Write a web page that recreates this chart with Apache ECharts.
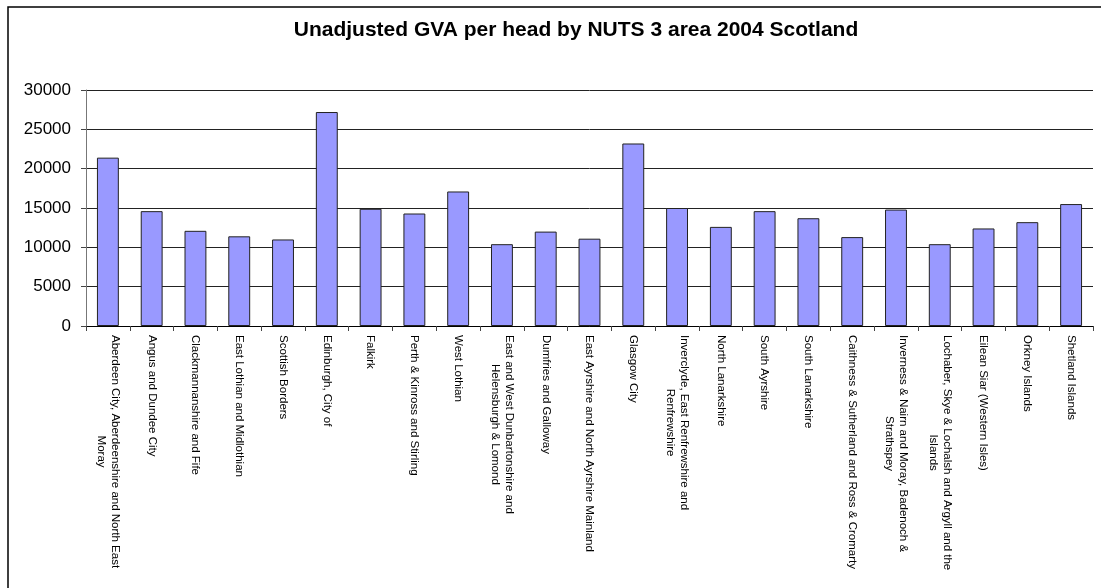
<!DOCTYPE html>
<html>
<head>
<meta charset="utf-8">
<title>Unadjusted GVA per head by NUTS 3 area 2004 Scotland</title>
<script src="https://cdn.jsdelivr.net/npm/echarts@6/dist/echarts.min.js"></script>
<style>
  html, body { margin: 0; padding: 0; background: #fff; }
  #main { width: 1101px; height: 588px; }
</style>
</head>
<body>
<div id="main"></div>
<script>
// NUTS 3 areas, as labelled on the axis (line breaks as in the original)
const areas = [
  'Aberdeen City, Aberdeenshire and North East\nMoray',
  'Angus and Dundee City',
  'Clackmannanshire and Fife',
  'East Lothian and Midlothian',
  'Scottish Borders',
  'Edinburgh, City of',
  'Falkirk',
  'Perth & Kinross and Stirling',
  'West Lothian',
  'East and West Dunbartonshire and\nHelensburgh & Lomond',
  'Dumfries and Galloway',
  'East Ayrshire and North Ayrshire Mainland',
  'Glasgow City',
  'Inverclyde, East Renfrewshire and\nRenfrewshire',
  'North Lanarkshire',
  'South Ayrshire',
  'South Lanarkshire',
  'Caithness & Sutherland and Ross & Cromarty',
  'Inverness & Nairn and Moray, Badenoch &\nStrathspey',
  'Lochaber, Skye & Lochalsh and Argyll and the\nIslands',
  'Eilean Siar (Western Isles)',
  'Orkney Islands',
  'Shetland Islands'
]

// GVA per head (GBP)
const gvaPerHead = [
  21400, 14600, 12100, 11400, 11000, 27200, 14900, 14300, 17100, 10400,
  12000, 11100, 23200, 15000, 12600, 14600, 13700, 11300, 14800, 10400,
  12400, 13200, 15500
]

const yMin = 0
const yMax = 30000
const yStep = 5000

const font = 'Arial, "Liberation Sans", sans-serif'

const chart = echarts.init(document.getElementById('main'))

chart.setOption({
  backgroundColor: '#ffffff',
  animation: false,
  title: {
    text: 'Unadjusted GVA per head by NUTS 3 area 2004 Scotland',
    left: 571,
    top: 15,
    textAlign: 'center',
    textStyle: {
      fontFamily: font,
      fontSize: 21,
      fontWeight: 'bold',
      color: '#000'
    }
  },
  graphic: [{
    type: 'rect',
    shape: { x: 8, y: 7, width: 1200, height: 700 },
    style: { fill: 'none', stroke: '#000', lineWidth: 1.5 },
    silent: true
  }],
  grid: {
    left: 86,
    right: 8,
    top: 90,
    bottom: 262
  },
  xAxis: {
    type: 'category',
    data: areas,
    axisLine: { lineStyle: { color: '#000', width: 1 } },
    axisTick: { show: true, length: 5, lineStyle: { color: '#444' } },
    axisLabel: {
      interval: 0,
      rotate: -90,
      margin: 9,
      fontFamily: font,
      fontSize: 11.5,
      color: '#000',
      formatter: function (v) {
        return v.split('\n').map(s => '{c|' + s + '}').join('\n')
      },
      rich: {
        c: {
          align: 'center',
          fontFamily: font,
          fontSize: 11.5,
          lineHeight: 14,
          color: '#000'
        }
      }
    }
  },
  yAxis: {
    type: 'value',
    min: yMin,
    max: yMax,
    interval: yStep,
    axisLine: { show: true, lineStyle: { color: '#777', width: 1 } },
    axisTick: { show: true, length: 5, lineStyle: { color: '#444' } },
    axisLabel: {
      margin: 15,
      fontFamily: font,
      fontSize: 17,
      color: '#000',
      formatter: function (v) { return String(v) }
    },
    splitLine: { show: true, lineStyle: { color: '#222', width: 1 } }
  },
  series: [{
    name: 'GVA per head',
    type: 'bar',
    data: gvaPerHead,
    barCategoryGap: '50%',
    itemStyle: {
      color: '#9999ff',
      borderColor: '#222',
      borderWidth: 1
    }
  }]
})
</script>
</body>
</html>
